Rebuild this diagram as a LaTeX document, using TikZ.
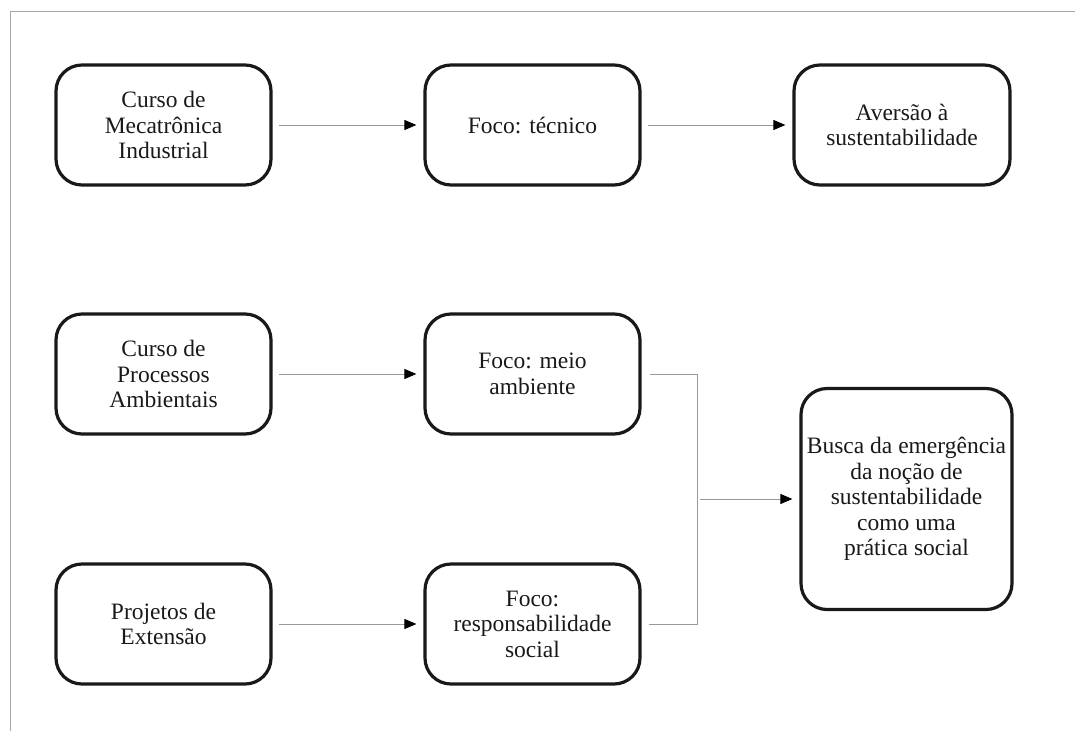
\documentclass[tikz,border=0pt]{standalone}
\usepackage{fontspec}
\setmainfont{Liberation Serif}
\usetikzlibrary{arrows.meta}
\begin{document}
\begin{tikzpicture}[x=1pt,y=-1pt,
  box/.style={draw=black!90, line width=3.2pt, rounded corners=26pt, align=center,
    minimum width=215pt, minimum height=120pt, inner sep=2pt,
    font=\fontsize{23.5}{25.5}\selectfont, text=black!90},
  link/.style={draw=black!40, line width=0.9pt},
  arr/.style={link, -{Triangle[length=12pt,width=10pt,color=black]}}
]
\useasboundingbox (0,0) rectangle (1075,731);
\draw[black!35, line width=1pt] (10,731) -- (10,11) -- (1075,11);

\node[box] (a1) at (163.5,125) {Curso de\\Mecatrônica\\Industrial};
\node[box] (a2) at (532.5,125) {Foco: técnico};
\node[box, minimum width=216pt] (a3) at (902,125) {Aversão à\\sustentabilidade};

\node[box] (b1) at (163.5,374) {Curso de\\Processos\\Ambientais};
\node[box] (b2) at (532.5,374) {Foco: meio\\ambiente};

\node[box] (c1) at (163.5,624) {Projetos de\\Extensão};
\node[box] (c2) at (532.5,624) {Foco:\\responsabilidade\\social};

\node[box, minimum width=211pt, minimum height=221pt] (d) at (906.5,499)
  {Busca da emergência\\da noção de\\sustentabilidade\\como uma\\prática social};

\draw[arr, shorten <=6pt, shorten >=7pt] (a1) -- (a2);
\draw[arr, shorten <=6pt, shorten >=7pt] (a2) -- (a3);
\draw[arr, shorten <=6pt, shorten >=7pt] (b1) -- (b2);
\draw[arr, shorten <=6pt, shorten >=7pt] (c1) -- (c2);

\coordinate (j1) at (697,374);
\coordinate (j2) at (697,624);
\coordinate (jm) at (700,499);
\draw[link, shorten <=8pt] (b2.east) -- (j1) -- (j2) -- (c2.east -| 649,624);
\draw[arr, shorten >=7pt] (jm) -- (d.west);
\end{tikzpicture}
\end{document}
